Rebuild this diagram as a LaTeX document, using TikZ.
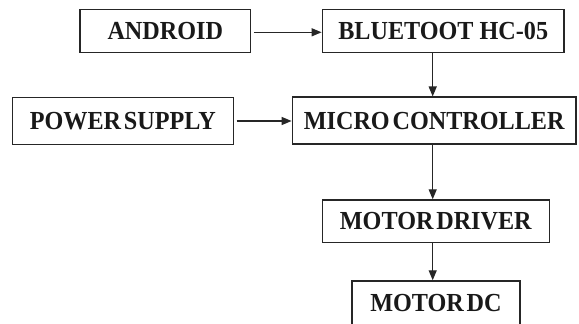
\documentclass[tikz,border=0pt]{standalone}
\usepackage{fontspec}
\usepackage{graphicx}
\setmainfont{Liberation Serif}
\usetikzlibrary{arrows.meta}
\newcommand\sqz[1]{\scalebox{0.93}[1]{#1}}
\begin{document}
\begin{tikzpicture}[x=1pt,y=-1pt,
  blk/.style={draw=black!85, line width=1.5pt, inner sep=0pt, fill=white,
    font=\fontsize{26}{28}\selectfont\bfseries, text=black!90},
  conn/.style={draw=black!85, line width=1.3pt, -{Triangle[length=10pt,width=8pt]}}]
\useasboundingbox (0,0) rectangle (579,324);
\clip (0,0) rectangle (579,324);
\fill[white] (0,0) rectangle (579,324);
\node[blk, minimum width=170.7pt, minimum height=43pt] (and) at (165.3,30.8) {\sqz{ANDROID}};
\node[blk, minimum width=241.7pt, minimum height=43pt] (bt) at (443.2,30.8) {\sqz{BLUETOOT HC-05}};
\node[blk, minimum width=221pt, minimum height=46.6pt] (ps) at (122.8,121) {\sqz{POWER\hspace{3pt}SUPPLY}};
\node[blk, minimum width=283.7pt, minimum height=47pt] (mc) at (434.2,120.7) {\sqz{MICRO\hspace{3pt}CONTROLLER}};
\node[blk, minimum width=227pt, minimum height=42.3pt] (md) at (435.8,221.2) {\sqz{MOTOR\hspace{3pt}DRIVER}};
\node[blk, minimum width=168pt, minimum height=45pt] (dc) at (436,303.5) {\sqz{MOTOR\hspace{3pt}DC}};
\coordinate (spine) at (432.7,0);
\draw[conn, shorten <=2.5pt] (and.east) ++(0,1.5) -- (bt.west |- 0,32.3);
\draw[conn, shorten <=2.5pt] (ps.east) -- (mc.west |- ps.east);
\draw[conn] (bt.south -| spine) -- (mc.north -| spine);
\draw[conn] (mc.south -| spine) -- (md.north -| spine);
\draw[conn] (md.south -| spine) -- (dc.north -| spine);
\end{tikzpicture}
\end{document}
